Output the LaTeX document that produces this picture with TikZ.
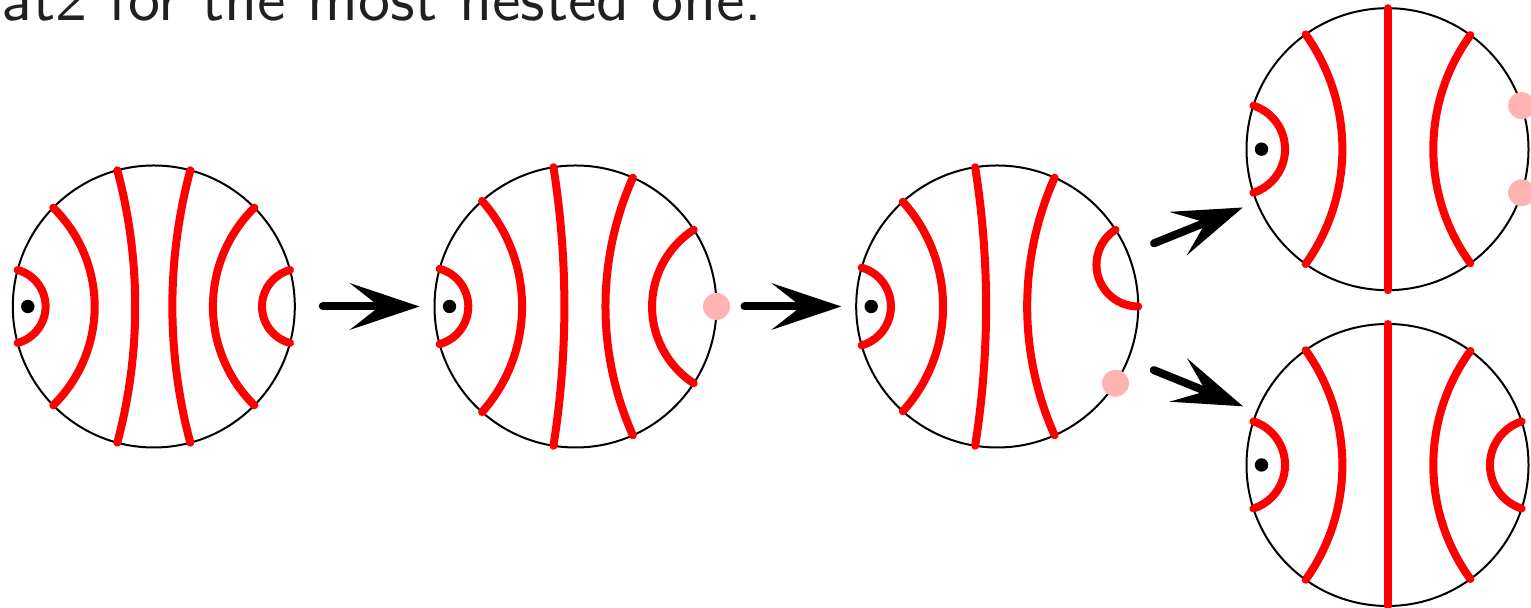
\documentclass[tikz,border=0pt]{standalone}
\usepackage{fontspec}
\newfontfamily\capfont{lmsans10-regular.otf}
\usetikzlibrary{arrows.meta}
\definecolor{pinkdot}{RGB}{255,179,179}
\definecolor{txt}{RGB}{35,31,32}
\newcommand\geoarc[3]{%
  \pgfmathsetmacro\gm{(#2+#3)/2}%
  \pgfmathsetmacro\gt{(#3-#2)/2}%
  \pgfmathsetmacro\gr{141*tan(\gt)}%
  \draw[geod] ([shift={(#2:141)}]#1.center) arc[start angle=\gm+270-\gt, end angle=\gm+90+\gt, radius=\gr];}
\begin{document}
\begin{tikzpicture}[x=0.5pt,y=0.5pt,
  disk/.style={circle,draw=black,line width=1pt,minimum size=141pt,inner sep=0pt,outer sep=0pt},
  geod/.style={draw=red,line width=4pt,line cap=round},
  puncture/.style={circle,fill=black,minimum size=6.7pt,inner sep=0pt},
  marker/.style={circle,fill=pinkdot,minimum size=13.5pt,inner sep=0pt},
  move/.style={line width=4pt,line cap=round,-{Stealth[length=35pt,width=23.5pt,inset=15pt,line width=0pt]},shorten <=14pt,shorten >=7.5pt}]
\useasboundingbox (0,0) rectangle (1531,608);
\node[anchor=base east,font=\fontsize{32pt}{38pt}\selectfont\capfont,text=txt,inner sep=0pt] (caption) at (763,587.5) {at2 for the most nested one.};
\node[disk] (c1) at (153.8,301.5) {};
\node[disk] (c2) at (575.5,301.5) {};
\node[disk] (c3) at (997.2,301.5) {};
\node[disk] (c4) at (1387.5,458.8) {};
\node[disk] (c5) at (1387.5,143) {};
% circle 1
\geoarc{c1}{165}{195}
\geoarc{c1}{135.5}{224.5}
\geoarc{c1}{105}{255}
\geoarc{c1}{-75}{75}
\geoarc{c1}{-44.5}{44.5}
\geoarc{c1}{-15}{15}
% circle 2
\geoarc{c2}{164.5}{195.5}
\geoarc{c2}{131.5}{228.5}
\geoarc{c2}{99}{261}
\geoarc{c2}{-66}{66}
\geoarc{c2}{-33}{33}
% circle 3
\geoarc{c3}{164}{196}
\geoarc{c3}{132}{228}
\geoarc{c3}{99}{261}
\geoarc{c3}{-66}{66}
\geoarc{c3}{0}{33}
% circle 4
\geoarc{c4}{162}{198}
\geoarc{c4}{125.5}{234.5}
\geoarc{c4}{-54}{54}
\draw[geod] (c4.north) -- (c4.south);
% circle 5
\geoarc{c5}{162}{198}
\geoarc{c5}{125.5}{234.5}
\geoarc{c5}{-54}{54}
\geoarc{c5}{-18}{18}
\draw[geod] (c5.north) -- (c5.south);
% punctures
\foreach \c in {c1,c2,c3,c4,c5}{
  \node[puncture] (p\c) at ([shift={(180:126)}]\c.center) {};
}
% markers
\node[marker] (m2) at ([shift={(0:141)}]c2.center) {};
\node[marker] (m3) at ([shift={(-33:141)}]c3.center) {};
\node[marker] (m4a) at ([shift={(18:141)}]c4.center) {};
\node[marker] (m4b) at ([shift={(-18:141)}]c4.center) {};
% arrows
\draw[move] (c1) -- (c2);
\draw[move] (c2) -- (c3);
\draw[move] (c3) -- (c4);
\draw[move] (c3) -- (c5);
\end{tikzpicture}
\end{document}
